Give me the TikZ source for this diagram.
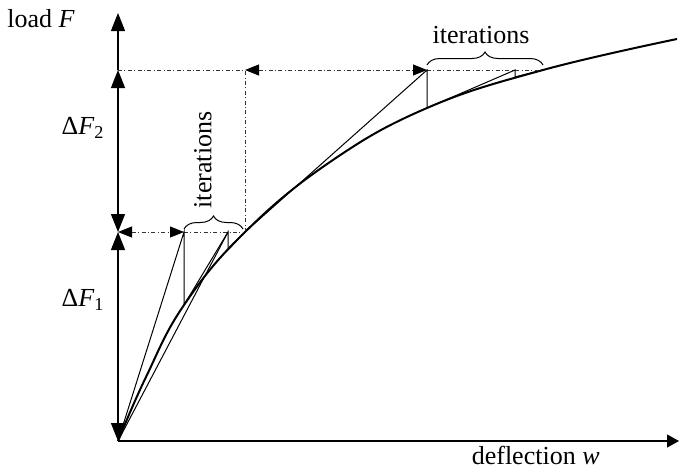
\documentclass[tikz,border=0pt]{standalone}
\usepackage{fontspec}
\setmainfont{Liberation Serif}
\usetikzlibrary{arrows.meta,decorations.pathreplacing}
\tikzset{
  vtip/.tip={Triangle[length=9pt,width=7pt]},
  htip/.tip={Triangle[length=7pt,width=5.5pt,color=black]},
  xtip/.tip={Triangle[length=6pt,width=6.5pt]}
}
\begin{document}
\begin{tikzpicture}[x=0.5pt,y=-0.5pt,
  lbl/.style={font=\fontsize{13pt}{15pt}\selectfont, inner sep=0pt},
  axis/.style={line width=0.55pt},
  dashdot/.style={line width=0.5pt, black!80, dash pattern=on 2pt off 1.2pt on 0.5pt off 1.2pt},
  thin line/.style={line width=0.5pt},
  curve/.style={line width=1pt},
  brc/.style={decorate, decoration={brace, amplitude=6.5pt}, line width=0.5pt}]
\useasboundingbox (0,0) rectangle (680,472);
% key points
\coordinate (O) at (118,441);
\coordinate (Xe) at (679,441);
\coordinate (Yt) at (118,13);
\coordinate (Y1) at (118,232);
\coordinate (Y2) at (118,70);
\coordinate (A1) at (184,232);
\coordinate (B1) at (184,305);
\coordinate (A2) at (228,232);
\coordinate (B2) at (228,250);
\coordinate (C1) at (245,232);
\coordinate (C1t) at (245,70);
\coordinate (D1) at (427,70);
\coordinate (E1) at (427,108);
\coordinate (D2) at (515,70);
\coordinate (E2) at (515,77);
\coordinate (C2) at (543,70);
% axes and load increments
\draw[axis,vtip-vtip] (O) -- (Y1);
\draw[axis,vtip-vtip] (Y1) -- (Y2);
\draw[axis,-vtip] (Y2) -- (Yt);
\draw[axis,-xtip] (O) -- (Xe);
% load-deflection curve
\draw[curve] plot[smooth, tension=0.7] coordinates {(118,441) (146,377) (184,305) (245,232) (330,162) (427,108) (543,70) (677,39)};
% dash-dot guides
\draw[dashdot,htip-htip] (Y1) -- (A1);
\draw[dashdot] (A1) -- (C1);
\draw[dashdot] (C1) -- (C1t);
\draw[dashdot] (Y2) -- (C1t);
\draw[dashdot,htip-htip] (C1t) -- (D1);
\draw[dashdot] (D1) -- (C2);
% iterations, step 1
\draw[thin line] (O) -- (A1) -- (B1) -- (A2) -- (B2) -- (C1);
\draw[thin line] (O) -- (A2);
% iterations, step 2
\draw[thin line] (C1) -- (D1) -- (E1) -- (D2) -- (E2) -- (C2);
% braces
\draw[brc] (184,229) -- (243,229);
\draw[brc] (427,65) -- (543,65);
% labels
\node[lbl, anchor=base west] (lF) at (7,27.5) {load \textit{F}};
\node[lbl, anchor=base east] (lw) at (600,464) {deflection \textit{w}};
\node[lbl] (dF1) at (83,300) {Δ\textit{F}\textsubscript{1}};
\node[lbl] (dF2) at (83,128) {Δ\textit{F}\textsubscript{2}};
\node[lbl, rotate=90] (it1) at (203,160) {iterations};
\node[lbl, anchor=base] (it2) at (481,43) {iterations};
\end{tikzpicture}
\end{document}
